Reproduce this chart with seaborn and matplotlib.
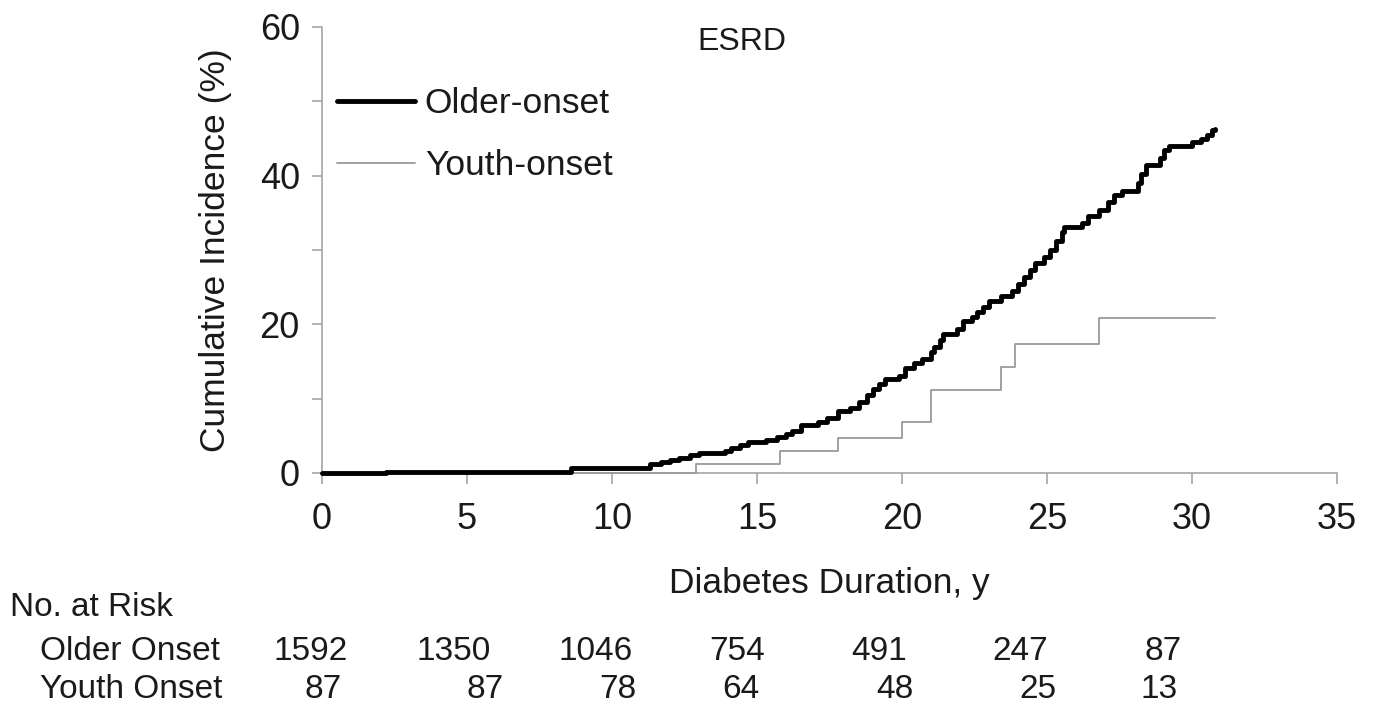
import numpy as np
import pandas as pd
import matplotlib
matplotlib.use("Agg")
import matplotlib.pyplot as plt
import seaborn as sns
from matplotlib.ticker import MultipleLocator

# ---------------- data ----------------
older_t = [0, 2.2, 8.6, 11.3, 11.7, 12.0, 12.3, 12.7, 13.0, 13.9, 14.1, 14.4, 14.7,
           15.3, 15.7, 16.0, 16.2, 16.5, 17.1, 17.4, 17.8, 18.2, 18.5, 18.8, 19.0,
           19.2, 19.4, 19.9, 20.1, 20.4, 20.7, 21.0, 21.1, 21.3, 21.4, 21.9, 22.1,
           22.4, 22.6, 22.8, 23.0, 23.4, 23.8, 24.0, 24.2, 24.4, 24.6, 24.9, 25.1,
           25.3, 25.5, 25.6, 26.2, 26.4, 26.8, 27.1, 27.3, 27.6, 28.15, 28.25, 28.4,
           28.9, 29.05, 29.2, 30.0, 30.3, 30.5, 30.7, 30.8]
older_v = [0, 0.15, 0.7, 1.2, 1.5, 1.8, 2.0, 2.4, 2.7, 3.0, 3.3, 3.7, 4.2,
           4.5, 4.9, 5.3, 5.7, 6.5, 6.9, 7.4, 8.3, 8.8, 9.5, 10.5, 11.3,
           12.0, 12.6, 13.1, 14.1, 14.8, 15.4, 16.3, 17.0, 17.9, 18.7, 19.4, 20.4,
           21.0, 21.7, 22.3, 23.2, 23.8, 24.5, 25.4, 26.4, 27.3, 28.3, 29.0, 30.0,
           31.2, 32.4, 33.1, 33.6, 34.6, 35.4, 36.4, 37.4, 38.0, 39.0, 40.2, 41.4,
           42.4, 43.5, 44.0, 44.5, 45.0, 45.5, 46.1, 46.3]
youth_t = [0, 12.9, 15.8, 17.8, 20.0, 21.0, 23.4, 23.9, 26.8, 30.8]
youth_v = [0, 1.2, 3.0, 4.7, 6.8, 11.1, 14.2, 17.3, 20.9, 20.9]

series_labels = ["Older-onset", "Youth-onset"]
title_text = "ESRD"
x_label = "Diabetes Duration, y"
y_label = "Cumulative Incidence (%)"

risk_times = [0, 5, 10, 15, 20, 25, 30]
risk_older = ["1592", "1350", "1046", "754", "491", "247", "87"]
risk_youth = ["87", "87", "78", "64", "48", "25", "13"]
risk_header = "No. at Risk"
risk_rows = ["Older Onset", "Youth Onset"]

# ---------------- layout (pixel offsets of the risk numbers) ----------------
older_off_px = [-11, -13, -16, -20, -23, -27, -29]
youth_off_px = [1, 18, 6, -16, -7, -9, -33]

sns.set_style("ticks")
plt.rcParams["font.family"] = ["Liberation Sans", "DejaVu Sans"]

W, H = 1373, 713
fig = plt.figure(figsize=(W / 100, H / 100), dpi=100)
ax = fig.add_axes([322 / W, 1 - 473 / H, (1337 - 322) / W, (473 - 27) / H])

df_o = pd.DataFrame({"t": older_t, "v": older_v})
df_y = pd.DataFrame({"t": youth_t, "v": youth_v})

sns.lineplot(data=df_y, x="t", y="v", ax=ax, color="#9a9a9a", linewidth=1.3,
             drawstyle="steps-post", estimator=None, label=series_labels[1],
             clip_on=False, zorder=3)
sns.lineplot(data=df_o, x="t", y="v", ax=ax, color="black", linewidth=3.5,
             drawstyle="steps-post", estimator=None, label=series_labels[0],
             clip_on=False, zorder=4, solid_joinstyle="round", solid_capstyle="round")

ax.set_xlim(0, 35)
ax.set_ylim(0, 60)
ax.xaxis.set_major_locator(MultipleLocator(5))
ax.yaxis.set_major_locator(MultipleLocator(20))
ax.yaxis.set_minor_locator(MultipleLocator(10))

axis_col = "#a6a6a6"
txt_col = "#1a1a1a"
for s in ["top", "right"]:
    ax.spines[s].set_visible(False)
for s in ["left", "bottom"]:
    ax.spines[s].set_color(axis_col)
    ax.spines[s].set_linewidth(1.2)

ax.tick_params(axis="x", which="both", length=8, width=1.2, color=axis_col,
               labelsize=26, labelcolor=txt_col, pad=13, direction="out")
ax.tick_params(axis="y", which="both", length=7, width=1.2, color=axis_col,
               labelsize=26, labelcolor=txt_col, pad=9, direction="out")

ax.set_xlabel(x_label, fontsize=25.5, color=txt_col)
ax.set_ylabel(y_label, fontsize=25.5, color=txt_col)
ax.xaxis.label.set_va("center")
ax.xaxis.set_label_coords(0.5, (473 - 584) / 446)
ax.yaxis.label.set_va("center")
ax.yaxis.set_label_coords((215 - 322) / 1015, 0.5)

ax.text((742 - 322) / 1015, (473 - 42) / 446, title_text, transform=ax.transAxes,
        ha="center", va="center", fontsize=23, color=txt_col)

handles, labels = ax.get_legend_handles_labels()
order = [labels.index(series_labels[0]), labels.index(series_labels[1])]
leg = ax.legend([handles[i] for i in order], [labels[i] for i in order],
                loc="upper left", bbox_to_anchor=((337 - 322) / 1015, (473 - 87) / 446),
                frameon=False, fontsize=25.5, handlelength=2.2, handletextpad=0.28,
                labelspacing=0.83, borderpad=0, borderaxespad=0)
for t in leg.get_texts():
    t.set_color(txt_col)

# risk table
fig.text(10 / W, 1 - 607 / H, risk_header, ha="left", va="center", fontsize=24, color=txt_col)
fig.text(40 / W, 1 - 652 / H, risk_rows[0], ha="left", va="center", fontsize=24, color=txt_col)
fig.text(40 / W, 1 - 690 / H, risk_rows[1], ha="left", va="center", fontsize=24, color=txt_col)
for t, s, o in zip(risk_times, risk_older, older_off_px):
    ax.annotate(s, xy=(t, 1 - 652 / H), xycoords=("data", "figure fraction"),
                xytext=(o * 0.72, 0), textcoords="offset points",
                ha="center", va="center", fontsize=24, color=txt_col, annotation_clip=False)
for t, s, o in zip(risk_times, risk_youth, youth_off_px):
    ax.annotate(s, xy=(t, 1 - 690 / H), xycoords=("data", "figure fraction"),
                xytext=(o * 0.72, 0), textcoords="offset points",
                ha="center", va="center", fontsize=24, color=txt_col, annotation_clip=False)

fig.savefig("out.png", dpi=100, facecolor="white")
